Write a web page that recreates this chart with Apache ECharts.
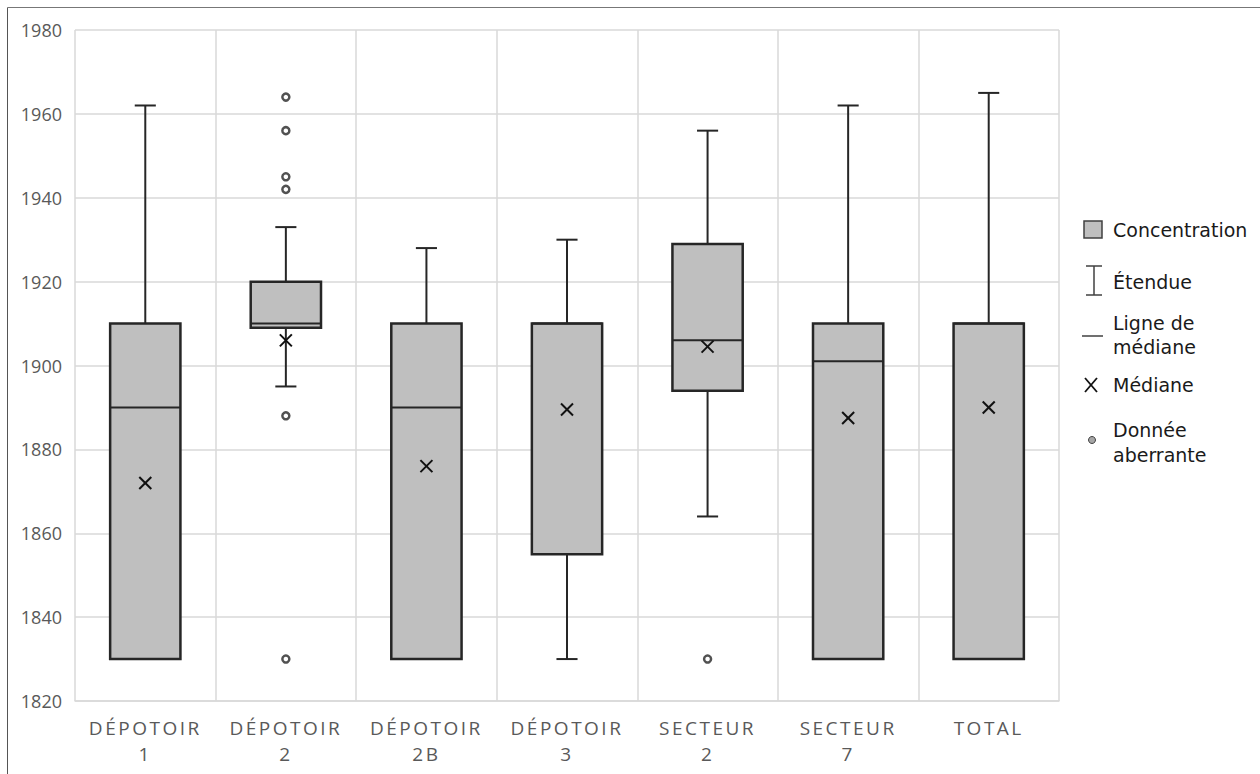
<!DOCTYPE html>
<html>
<head>
<meta charset="utf-8">
<script src="https://cdn.jsdelivr.net/npm/echarts@6/dist/echarts.min.js"></script>
<style>
  html, body { margin: 0; padding: 0; background: #fff; }
  #chart { width: 1260px; height: 774px; }
  #chart text[text-anchor="middle"] { letter-spacing: 2.5px; }
</style>
</head>
<body>
<div id="chart"></div>
<script>
// ---- data ----
const categories = ['DÉPOTOIR\n1', 'DÉPOTOIR\n2', 'DÉPOTOIR\n2B', 'DÉPOTOIR\n3', 'SECTEUR\n2', 'SECTEUR\n7', 'TOTAL'];
const mins    = [1830, 1895, 1830, 1830, 1864, 1830, 1830];
const q1s     = [1830, 1909, 1830, 1855, 1894, 1830, 1830];
const medians = [1890, 1910, 1890, 1910, 1906, 1901, 1910];
const q3s     = [1910, 1920, 1910, 1910, 1929, 1910, 1910];
const maxs    = [1962, 1933, 1928, 1930, 1956, 1962, 1965];
const means   = [1872, 1906, 1876, 1889.5, 1904.5, 1887.5, 1890];
const outliers = [[1, 1964], [1, 1956], [1, 1945], [1, 1942], [1, 1888], [1, 1830], [4, 1830]];
const yMin = 1820, yMax = 1980, yStep = 20;
const legendLabels = ['Concentration', 'Étendue', 'Ligne de\nmédiane', 'Médiane', 'Donnée\naberrante'];

// ---- styles ----
const ink = '#262626';
const boxFill = '#bfbfbf';
const gridCol = '#d9d9d9';

const boxRows = categories.map((c, i) => [i, mins[i], q1s[i], medians[i], q3s[i], maxs[i]]);
const meanRows = categories.map((c, i) => [i, means[i]]);

function renderBox(params, api) {
  const i = api.value(0);
  const lo = api.value(1), q1 = api.value(2), med = api.value(3), q3 = api.value(4), hi = api.value(5);
  const band = api.size([1, 0])[0];
  const cx = api.coord([i, med])[0];
  const bw = band * 0.5, cw = band * 0.15;
  const yLo = api.coord([i, lo])[1], yQ1 = api.coord([i, q1])[1], yMed = api.coord([i, med])[1];
  const yQ3 = api.coord([i, q3])[1], yHi = api.coord([i, hi])[1];
  const ls = { stroke: ink, lineWidth: 2, fill: null };
  const ch = [];
  if (hi > q3) {
    ch.push({ type: 'line', shape: { x1: cx, y1: yQ3, x2: cx, y2: yHi }, style: ls });
    ch.push({ type: 'line', shape: { x1: cx - cw / 2, y1: yHi, x2: cx + cw / 2, y2: yHi }, style: ls });
  }
  if (lo < q1) {
    ch.push({ type: 'line', shape: { x1: cx, y1: yQ1, x2: cx, y2: yLo }, style: ls });
    ch.push({ type: 'line', shape: { x1: cx - cw / 2, y1: yLo, x2: cx + cw / 2, y2: yLo }, style: ls });
  }
  ch.push({ type: 'rect', shape: { x: cx - bw / 2, y: yQ3, width: bw, height: yQ1 - yQ3 },
            style: { fill: boxFill, stroke: ink, lineWidth: 2.5 } });
  ch.push({ type: 'line', shape: { x1: cx - bw / 2, y1: yMed, x2: cx + bw / 2, y2: yMed }, style: ls });
  return { type: 'group', children: ch };
}

function renderMean(params, api) {
  const p = api.coord([api.value(0), api.value(1)]);
  const s = 6;
  const ls = { stroke: '#111', lineWidth: 2, fill: null };
  return { type: 'group', children: [
    { type: 'line', shape: { x1: p[0] - s, y1: p[1] - s, x2: p[0] + s, y2: p[1] + s }, style: ls },
    { type: 'line', shape: { x1: p[0] - s, y1: p[1] + s, x2: p[0] + s, y2: p[1] - s }, style: ls }
  ]};
}

// ---- legend (graphic) ----
const lgX = 1084, txtX = 1113;
const lgFont = { fontFamily: 'DejaVu Sans', fontSize: 19, fill: '#1a1a1a' };
const legendGraphics = [
  { type: 'rect', shape: { x: lgX, y: 221, width: 18, height: 17 }, style: { fill: boxFill, stroke: '#404040', lineWidth: 1.5 } },
  { type: 'text', x: txtX, y: 230, style: Object.assign({ text: legendLabels[0], textVerticalAlign: 'middle' }, lgFont) },
  { type: 'polyline', shape: { points: [[lgX + 2, 266], [lgX + 18, 266]] }, style: { stroke: '#404040', lineWidth: 1.5 } },
  { type: 'polyline', shape: { points: [[lgX + 10, 266], [lgX + 10, 295]] }, style: { stroke: '#404040', lineWidth: 1.5 } },
  { type: 'polyline', shape: { points: [[lgX + 2, 295], [lgX + 18, 295]] }, style: { stroke: '#404040', lineWidth: 1.5 } },
  { type: 'text', x: txtX, y: 282, style: Object.assign({ text: legendLabels[1], textVerticalAlign: 'middle' }, lgFont) },
  { type: 'line', shape: { x1: lgX - 2, y1: 336, x2: lgX + 19, y2: 336 }, style: { stroke: '#404040', lineWidth: 1.5 } },
  { type: 'text', x: txtX, y: 335, style: Object.assign({ text: legendLabels[2], textVerticalAlign: 'middle', lineHeight: 24 }, lgFont) },
  { type: 'line', shape: { x1: lgX + 1, y1: 378, x2: lgX + 13, y2: 392 }, style: { stroke: '#111', lineWidth: 1.8 } },
  { type: 'line', shape: { x1: lgX + 1, y1: 392, x2: lgX + 13, y2: 378 }, style: { stroke: '#111', lineWidth: 1.8 } },
  { type: 'text', x: txtX, y: 385, style: Object.assign({ text: legendLabels[3], textVerticalAlign: 'middle' }, lgFont) },
  { type: 'circle', shape: { cx: lgX + 8, cy: 440, r: 3.5 }, style: { fill: '#a6a6a6', stroke: '#404040', lineWidth: 1 } },
  { type: 'text', x: txtX, y: 442, style: Object.assign({ text: legendLabels[4], textVerticalAlign: 'middle', lineHeight: 25 }, lgFont) },
  // frame lines
  { type: 'line', shape: { x1: 7.5, y1: 7.5, x2: 7.5, y2: 774 }, style: { stroke: '#555', lineWidth: 1 } },
  { type: 'line', shape: { x1: 7.5, y1: 7.5, x2: 1260, y2: 7.5 }, style: { stroke: '#777', lineWidth: 1 } }
];

const chart = echarts.init(document.getElementById('chart'), null, { renderer: 'svg' });
chart.setOption({
  animation: false,
  backgroundColor: '#fff',
  grid: { left: 75, right: 201, top: 30, bottom: 73 },
  xAxis: {
    type: 'category',
    data: categories,
    boundaryGap: true,
    axisLine: { show: true, lineStyle: { color: gridCol, width: 1.5 } },
    axisTick: { show: false },
    splitLine: { show: true, lineStyle: { color: gridCol, width: 1.5 } },
    axisLabel: { color: '#595959', fontFamily: 'Open Sans', fontSize: 19, lineHeight: 26, margin: 14, interval: 0 }
  },
  yAxis: {
    type: 'value',
    min: yMin, max: yMax, interval: yStep,
    axisLine: { show: false },
    axisTick: { show: false },
    splitLine: { show: true, lineStyle: { color: gridCol, width: 1.5 } },
    axisLabel: { color: '#595959', fontFamily: 'Open Sans', fontSize: 18, margin: 13,
                 formatter: function (v) { return String(v); } }
  },
  series: [
    { type: 'custom', renderItem: renderBox, data: boxRows, encode: { x: 0, y: [1, 2, 3, 4, 5] }, z: 2 },
    { type: 'custom', renderItem: renderMean, data: meanRows, encode: { x: 0, y: 1 }, z: 3 },
    { type: 'scatter', data: outliers, symbol: 'circle', symbolSize: 7,
      itemStyle: { color: '#fff', borderColor: ink, borderWidth: 2.5 }, z: 3 }
  ],
  graphic: legendGraphics
});
</script>
</body>
</html>
